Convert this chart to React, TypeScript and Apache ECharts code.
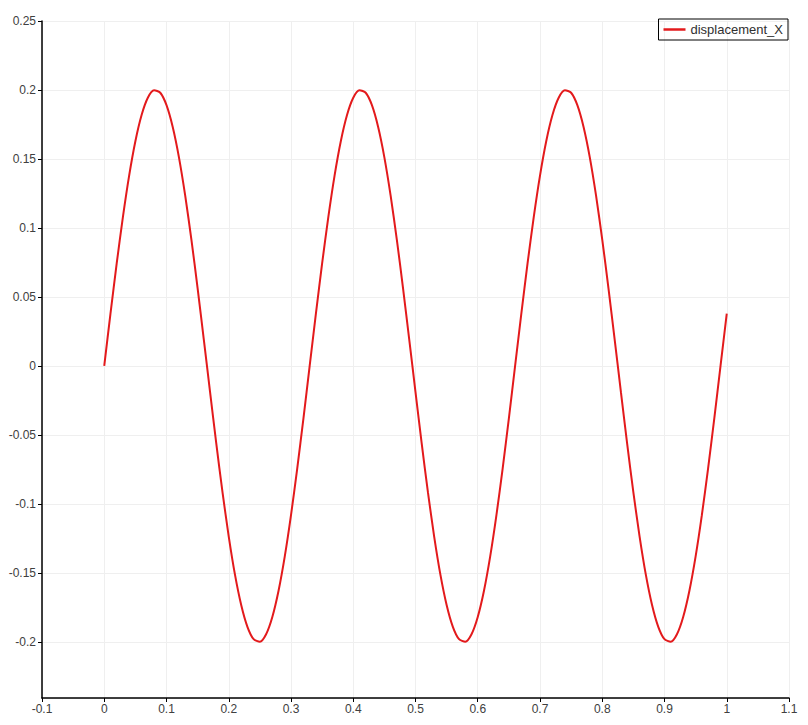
import React, { useEffect, useRef } from 'react';
import * as echarts from 'echarts';

// x positions (step 0.01 from 0 to 1) and the displacement
const xValues: number[] = Array.from({ length: 101 }, (_, i) => i / 100);

const displacementX: number[] = [
  0, 0.0379, 0.0743, 0.1081, 0.138, 0.1629, 0.1819, 0.1944, 0.1998, 0.198,
  0.189, 0.1732, 0.1512, 0.1236, 0.0916, 0.0563, 0.019, -0.019, -0.0563, -0.0916,
  -0.1236, -0.1512, -0.1732, -0.189, -0.198, -0.1998, -0.1944, -0.1819, -0.1629, -0.138,
  -0.1081, -0.0743, -0.0379, 0, 0.0379, 0.0743, 0.1081, 0.138, 0.1629, 0.1819,
  0.1944, 0.1998, 0.198, 0.189, 0.1732, 0.1512, 0.1236, 0.0916, 0.0563, 0.019,
  -0.019, -0.0563, -0.0916, -0.1236, -0.1512, -0.1732, -0.189, -0.198, -0.1998, -0.1944,
  -0.1819, -0.1629, -0.138, -0.1081, -0.0743, -0.0379, 0, 0.0379, 0.0743, 0.1081,
  0.138, 0.1629, 0.1819, 0.1944, 0.1998, 0.198, 0.189, 0.1732, 0.1512, 0.1236,
  0.0916, 0.0563, 0.019, -0.019, -0.0563, -0.0916, -0.1236, -0.1512, -0.1732, -0.189,
  -0.198, -0.1998, -0.1944, -0.1819, -0.1629, -0.138, -0.1081, -0.0743, -0.0379, 0,
  0.0379,
];

const seriesName = 'displacement_X';

const xRange = { min: -0.1, max: 1.1, step: 0.1 };
const yRange = { min: -0.2406, max: 0.25 };

const FONT = '"Liberation Sans", Arial, sans-serif';
const LABEL_COLOR = '#404040';

const fmt = (v: number) => String(Math.round(v * 100) / 100);

const App: React.FC = () => {
  const chartRef = useRef<HTMLDivElement | null>(null);

  useEffect(() => {
    document.body.style.margin = '0';
    if (!chartRef.current) return;
    const chart = echarts.init(chartRef.current, null, { renderer: 'svg' });

    chart.setOption({
      animation: false,
      backgroundColor: '#ffffff',
      grid: { left: 42, right: 19, top: 21, bottom: 27 },
      legend: {
        right: 20,
        top: 19,
        orient: 'vertical',
        borderColor: '#000000',
        borderWidth: 1,
        borderRadius: 0,
        padding: [4, 5, 4, 5],
        itemWidth: 22,
        itemHeight: 2.5,
        icon: 'rect',
        data: [seriesName],
        textStyle: { fontFamily: FONT, fontSize: 13, color: '#303030' },
      },
      xAxis: {
        type: 'value',
        min: xRange.min,
        max: xRange.max,
        interval: xRange.step,
        axisLine: { onZero: false, lineStyle: { color: '#000000', width: 1.5 } },
        axisTick: { show: true, length: 4, lineStyle: { color: '#000000' } },
        axisLabel: {
          margin: 5,
          fontFamily: FONT,
          fontSize: 12,
          color: LABEL_COLOR,
          formatter: (v: number) => fmt(v),
        },
        splitLine: { show: true, lineStyle: { color: '#efefef', width: 1 } },
      },
      yAxis: {
        type: 'value',
        min: yRange.min,
        max: yRange.max,
        splitNumber: 10,
        axisLine: { show: true, onZero: false, lineStyle: { color: '#000000', width: 1.5 } },
        axisTick: { show: true, length: 4, lineStyle: { color: '#000000' } },
        axisLabel: {
          margin: 6,
          showMinLabel: false,
          fontFamily: FONT,
          fontSize: 12,
          color: LABEL_COLOR,
          formatter: (v: number) => fmt(v),
        },
        splitLine: { show: true, lineStyle: { color: '#efefef', width: 1 } },
      },
      series: [
        {
          name: seriesName,
          type: 'line',
          data: xValues.map((x, i) => [x, displacementX[i]]),
          symbol: 'none',
          smooth: 0.25,
          color: '#e31a1c',
          lineStyle: { color: '#e31a1c', width: 2 },
        },
      ],
    });

    const resizeHandler = () => chart.resize();
    window.addEventListener('resize', resizeHandler);
    return () => {
      window.removeEventListener('resize', resizeHandler);
      chart.dispose();
    };
  }, []);

  return <div ref={chartRef} style={{ width: '808px', height: '725px' }} />;
};

export default App;
